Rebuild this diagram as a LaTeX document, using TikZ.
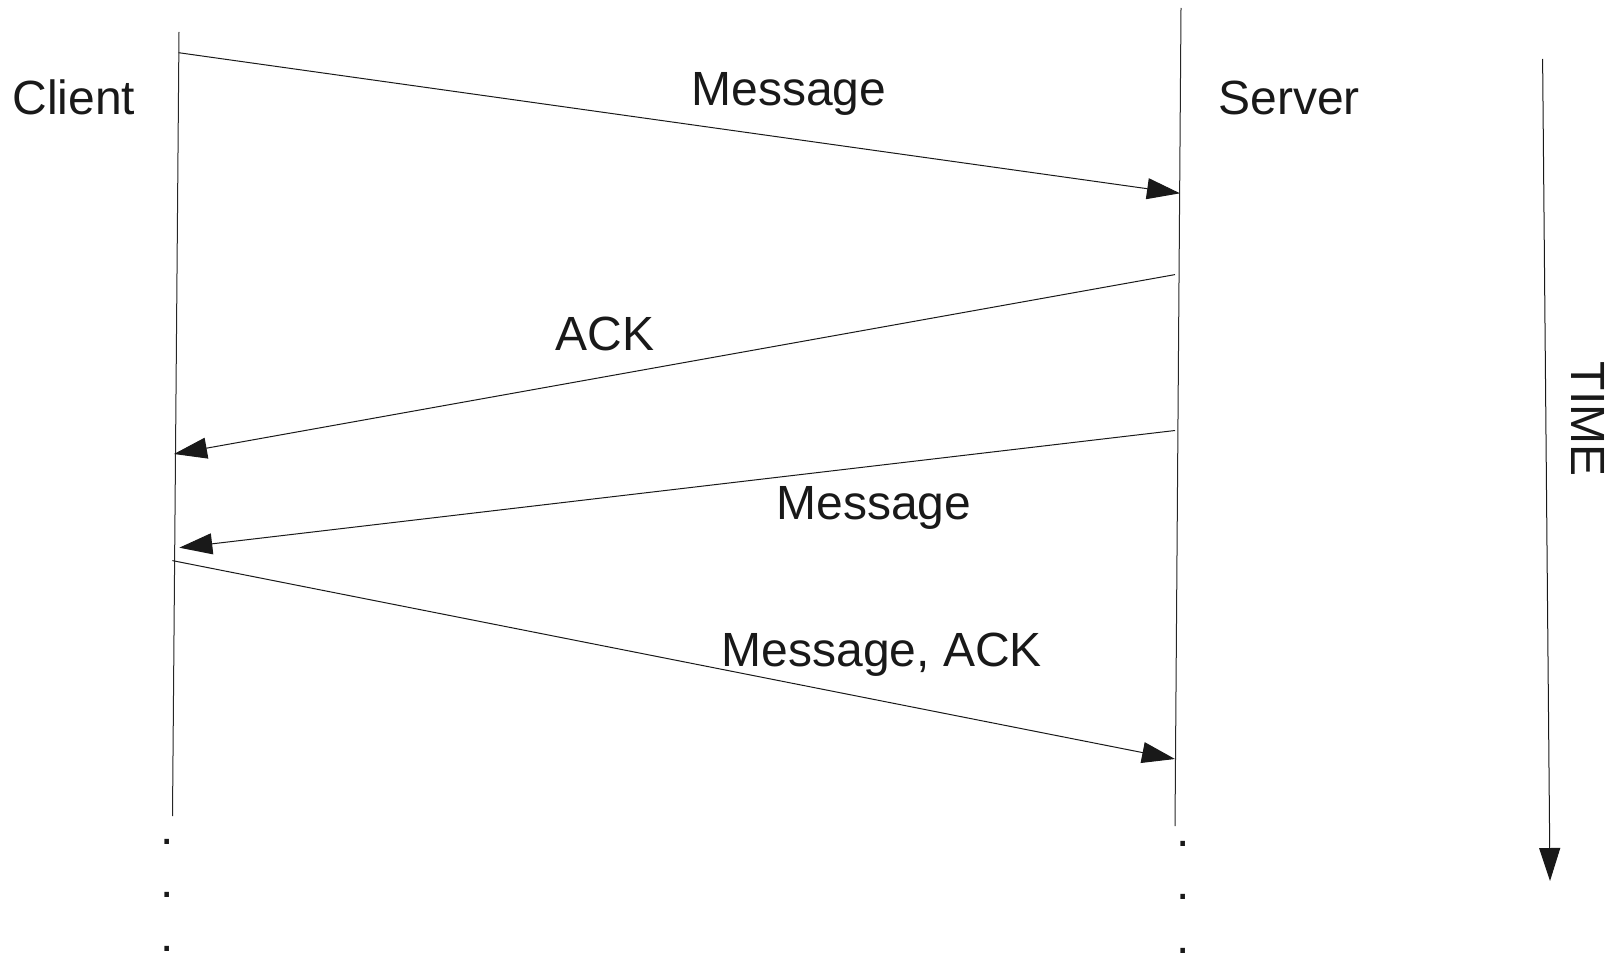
\documentclass[tikz,border=0pt]{standalone}
\usepackage{fontspec}
\setmainfont{Liberation Sans}
\usetikzlibrary{arrows.meta,positioning}
\tikzset{
  lifeline/.style={line width=1pt, black!85},
  msgArrow/.style={line width=1pt, black!90, -{Triangle[length=33pt,width=21pt]}},
  msgLabel/.style={
    font=\fontsize{48}{58}\selectfont,
    anchor=base,
    inner sep=0pt,
    text=black!90
  },
  dotLabel/.style={msgLabel}
}

\begin{document}
\begin{tikzpicture}[x=1pt,y=-1pt]
  \useasboundingbox (0,0) rectangle (1619,960);
  % lifelines
  \coordinate (clientTop) at (179,32);
  \coordinate (clientEnd) at (172.5,816);
  \coordinate (serverTop) at (1181,8);
  \coordinate (serverEnd) at (1175,826);
  \draw[lifeline] (clientTop) -- (clientEnd);
  \draw[lifeline] (serverTop) -- (serverEnd);
  \node[msgLabel] (clientName) at (74,115) {Client};
  \node[msgLabel] (serverName) at (1289,115) {Server};
  % message end points
  \coordinate (msgOneFrom) at (178.6,52.7);
  \coordinate (msgOneTo) at (1180,193.3);
  \coordinate (ackFrom) at (1175,274.6);
  \coordinate (ackTo) at (174,454);
  \coordinate (msgTwoFrom) at (1175,430.5);
  \coordinate (msgTwoTo) at (179.3,547.7);
  \coordinate (msgAckFrom) at (172.4,560.6);
  \coordinate (msgAckTo) at (1175,759);
  \draw[msgArrow] (msgOneFrom) -- (msgOneTo);
  \draw[msgArrow] (ackFrom) -- (ackTo);
  \draw[msgArrow] (msgTwoFrom) -- (msgTwoTo);
  \draw[msgArrow] (msgAckFrom) -- (msgAckTo);
  \node[msgLabel] (msgOneText) at (789,105.3) {Message};
  \node[msgLabel] (ackText) at (605,350) {ACK};
  \node[msgLabel] (msgTwoText) at (874,519.5) {Message};
  \node[msgLabel] (msgAckText) at (881.7,666.7) {Message, ACK};
  % continuation dots
  \foreach \i/\yy in {1/842,2/895.3,3/949} {
    \node[dotLabel] (clientDot\i) at (167,\yy+2.4) {.};
  }
  \foreach \i/\yy in {1/844,2/897.3,3/951} {
    \node[dotLabel] (serverDot\i) at (1183.5,\yy+2.4) {.};
  }
  % time axis
  \coordinate (timeTop) at (1542.6,59);
  \coordinate (timeEnd) at (1550,881);
  \draw[msgArrow] (timeTop) -- (timeEnd);
  \node[msgLabel, rotate=-90] (timeText) at (1571,419) {TIME};
\end{tikzpicture}
\end{document}
